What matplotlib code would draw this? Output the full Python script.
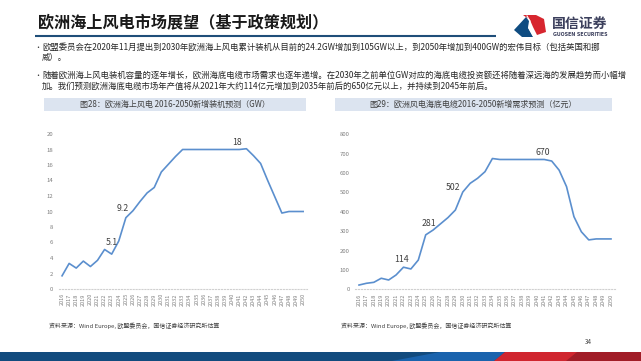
import matplotlib.pyplot as plt
from matplotlib.patches import Polygon, Rectangle

plt.rcParams['font.family'] = ['Noto Sans CJK SC', 'DejaVu Sans']

# ---- data ----
years = list(range(2016, 2051))

# 图28: new offshore wind installs, GW
new_gw = [1.7, 3.3, 2.7, 3.6, 2.9, 3.7, 5.1, 4.5, 6.2, 9.2,
          10.1, 11.3, 12.4, 13.1, 15.1, 16.1, 17.1, 18.0, 18.0, 18.0,
          18.0, 18.0, 18.0, 18.0, 18.0, 18.0, 18.1, 17.2, 16.2, 14.0,
          11.9, 9.8, 10.0, 10.0, 10.0]
gw_label_years = [2022, 2025, 2041]

# 图29: new subsea cable demand, 亿元
cable_yi = [22, 31, 36, 57, 48, 74, 114, 105, 151, 281,
            306, 338, 370, 409, 502, 547, 573, 607, 675, 670,
            670, 670, 670, 670, 670, 670, 662, 615, 530, 375,
            297, 255, 260, 260, 260]
cable_label_years = [2022, 2025, 2030, 2041]

title = '欧洲海上风电市场展望（基于政策规划）'
bullets = [
    ['欧盟委员会在2020年11月提出到2030年欧洲海上风电累计装机从目前的24.2GW增加到105GW以上，到2050年增加到400GW的宏伟目标（包括英国和挪',
     '威）。'],
    ['随着欧洲海上风电装机容量的逐年增长，欧洲海底电缆市场需求也逐年递增。在2030年之前单位GW对应的海底电缆投资额还将随着深远海的发展趋势而小幅增',
     '加。我们预测欧洲海底电缆市场年产值将从2021年大约114亿元增加到2035年前后的650亿元以上，并持续到2045年前后。'],
]
chart_titles = ['图28：欧洲海上风电 2016-2050新增装机预测（GW）',
                '图29：欧洲风电海底电缆2016-2050新增需求预测（亿元）']
source = '资料来源：Wind Europe, 欧盟委员会，国信证券经济研究所估算'

W, H = 641, 361
LINE = '#5b8fce'
GRAY = '#7f7f7f'

fig = plt.figure(figsize=(W / 100, H / 100), dpi=100)

# slide decoration layer in pixel coordinates
deco = fig.add_axes([0, 0, 1, 1], zorder=0)
deco.set_xlim(0, W)
deco.set_ylim(H, 0)
deco.axis('off')

deco.text(38, 23, title, fontsize=11.6, fontweight='bold', color='#1a1a1a',
          va='center', ha='left')
deco.plot([35, 496], [36, 36], color='#1f4e79', lw=1.5, solid_capstyle='butt')

# logo
deco.add_patch(Polygon([(523, 15), (536, 15), (544, 19), (546, 32), (537, 35),
                        (533, 27), (530, 20)], closed=True, fc='#d7262f', ec='none'))
deco.add_patch(Polygon([(514, 30), (526, 17), (529, 21), (528, 28), (533, 37),
                        (522, 37)], closed=True, fc='#0f4c81', ec='none'))
deco.plot([527, 530, 529, 534], [16, 21, 28, 37], color='white', lw=0.8)
deco.text(580, 24.3, '国信证券', fontsize=10, color='#3b3f5c', ha='center', va='center',
          fontweight='bold')
deco.text(580, 34.5, 'GUOSEN SECURITIES', fontsize=3.4, color='#3b3f5c', ha='center',
          va='center', fontweight='bold', family='DejaVu Sans')

# bullets
line_y = [[47.5, 57.5], [75.5, 86]]
for lines, ys in zip(bullets, line_y):
    deco.text(34, ys[0], '•', fontsize=5, color='#333333', va='center', ha='left')
    for txt, y in zip(lines, ys):
        deco.text(42, y, txt, fontsize=6, color='#262626', va='center', ha='left')

# chart title boxes
for (x0, x1), txt in zip([(44, 306), (335, 612)], chart_titles):
    deco.add_patch(Rectangle((x0, 97.5), x1 - x0, 13.5, fc='#dce4f0', ec='none'))
    deco.text((x0 + x1) / 2, 104.5, txt, fontsize=5.8, color='#404040',
              ha='center', va='center')

deco.text(49, 326, source, fontsize=4.3, color='#404040', va='center')
deco.text(341, 326, source, fontsize=4.3, color='#404040', va='center')
deco.text(588, 342, '34', fontsize=4.5, color='#404040', ha='center', va='center')

# footer band
deco.add_patch(Rectangle((0, 352), W, 9, fc='#124b7e', ec='none'))
deco.add_patch(Polygon([(392, 361), (440, 352), (505, 352), (494, 361)], closed=True,
                       fc='#1a63ad', ec='none'))
deco.add_patch(Polygon([(494, 361), (505, 352), (641, 352), (641, 361)], closed=True,
                       fc='#d0262f', ec='none'))
deco.add_patch(Polygon([(566, 361), (577, 352), (641, 352), (641, 361)], closed=True,
                       fc='#a11d27', ec='none'))


def line_chart(rect, values, label_years, offsets, ylim, ystep):
    ax = fig.add_axes([rect[0] / W, rect[1] / H, rect[2] / W, rect[3] / H], zorder=2)
    ax.patch.set_alpha(0)
    ax.plot(years, values, color=LINE, lw=1.2, solid_joinstyle='round')
    for yr, (dx, dy) in zip(label_years, offsets):
        v = values[years.index(yr)]
        ax.annotate(f'{v:g}', (yr, v), xytext=(dx, dy), textcoords='offset pixels',
                    ha='center', va='center', fontsize=6.3, color='#404040')
    ax.set_xlim(years[0] - 0.5, years[-1] + 0.5)
    ax.set_ylim(*ylim)
    ax.set_xticks(years)
    ax.set_xticklabels([str(y) for y in years], rotation=90, fontsize=4, color=GRAY)
    ax.set_yticks(range(ylim[0], ylim[1] + 1, ystep))
    ax.tick_params(axis='y', labelsize=4.3, labelcolor=GRAY, length=0, pad=4)
    ax.tick_params(axis='x', length=0, pad=3)
    for s in ['top', 'right', 'left']:
        ax.spines[s].set_visible(False)
    ax.spines['bottom'].set_color('#d0d0d0')
    ax.spines['bottom'].set_linestyle(':')
    ax.spines['bottom'].set_linewidth(0.8)
    return ax


line_chart((58.5, 72, 248.2, 155), new_gw, gw_label_years,
           [(7, 7), (-3, 9), (-2, 7)], (0, 20), 2)
line_chart((355.3, 71.7, 259.4, 155), cable_yi, cable_label_years,
           [(-2, 8), (3, 11), (-10, 5), (-2, 7)], (0, 800), 100)

fig.savefig('out.png', dpi=100)
